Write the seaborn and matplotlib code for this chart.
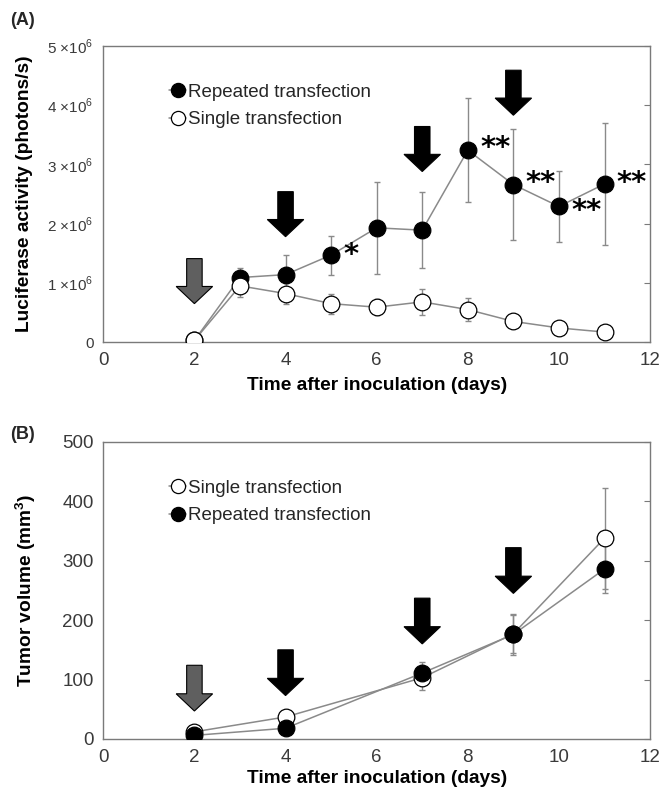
import numpy as np
import pandas as pd
import matplotlib
matplotlib.use("Agg")
import matplotlib.pyplot as plt
import seaborn as sns
from matplotlib.patches import FancyArrow

# ---- data (A) luciferase activity, x1e6 photons/s
days_a = [2, 3, 4, 5, 6, 7, 8, 9, 10, 11]
rep_a = [0.03, 1.09, 1.14, 1.47, 1.93, 1.89, 3.24, 2.66, 2.29, 2.67]
rep_a_err = [0.0, 0.16, 0.33, 0.33, 0.78, 0.64, 0.88, 0.94, 0.60, 1.03]
single_a = [0.03, 0.95, 0.82, 0.65, 0.59, 0.68, 0.55, 0.35, 0.24, 0.17]
single_a_err = [0.0, 0.18, 0.17, 0.17, 0.14, 0.22, 0.20, 0.05, 0.04, 0.03]
stars_a = {5: "*", 8: "**", 9: "**", 10: "**", 11: "**"}
star_y_a = {5: 1.47, 8: 3.28, 9: 2.69, 10: 2.22, 11: 2.69}

# ---- data (B) tumor volume, mm3
days_b = [2, 4, 7, 9, 11]
single_b = [12, 37, 103, 177, 338]
single_b_err = [3, 6, 20, 32, 85]
rep_b = [6, 18, 111, 176, 286]
rep_b_err = [2, 5, 18, 35, 40]

# transfection arrows: (day, top of arrow, colour)
arrows_a = [(2, 1.41, "#5f5f5f"), (4, 2.54, "black"), (7, 3.64, "black"), (9, 4.59, "black")]
arrows_b = [(2, 124, "#5f5f5f"), (4, 150, "black"), (7, 237, "black"), (9, 322, "black")]

sns.set_style("white")
plt.rcParams["font.family"] = ["Liberation Sans", "DejaVu Sans"]
plt.rcParams["mathtext.fontset"] = "custom"
plt.rcParams["mathtext.rm"] = "Liberation Sans"
plt.rcParams["mathtext.bf"] = "Liberation Sans:bold"

fig = plt.figure(figsize=(6.62, 7.92), dpi=100)
ax_a = fig.add_axes([0.156, 0.568, 0.826, 0.374])
ax_b = fig.add_axes([0.156, 0.067, 0.826, 0.375])

line_col = "#8a8a8a"
lab_size = 13.8


def draw_series(ax, x, y, err, filled, label):
    df = pd.DataFrame({"x": x, "y": y})
    ax.errorbar(x, y, yerr=err, fmt="none", ecolor=line_col, elinewidth=1,
                capsize=2, capthick=1, zorder=2)
    sns.lineplot(data=df, x="x", y="y", ax=ax, color=line_col, linewidth=1.1,
                 marker="o", markersize=12,
                 markerfacecolor="black" if filled else "white",
                 markeredgecolor="black", markeredgewidth=0.9,
                 label=label, zorder=3)


def draw_arrows(ax, arrows, length, head_len):
    for day, top, col in arrows:
        ax.add_patch(FancyArrow(day, top, 0, -length, width=0.34,
                                head_width=0.8, head_length=head_len,
                                length_includes_head=True, facecolor=col,
                                edgecolor="black", linewidth=0.8, zorder=4))


def style_axes(ax):
    ax.set_xlim(0, 12)
    ax.set_xticks(range(0, 13, 2))
    for side in ["left", "right", "top", "bottom"]:
        ax.spines[side].set_color("#7a7a7a")
        ax.spines[side].set_linewidth(1.0)
    ax.tick_params(direction="in", length=4, color="#7a7a7a", right=True,
                   labelsize=13.5, labelcolor="#3a3a3a", pad=7)
    ax.set_xlabel("Time after inoculation (days)", fontsize=lab_size,
                  fontweight="bold", labelpad=6, color="black")


def add_legend(ax):
    ax.legend(loc="upper left", bbox_to_anchor=(0.09, 0.93), frameon=False,
              fontsize=13.5, handlelength=0.9, handletextpad=0.1,
              labelspacing=0.55, markerscale=0.85)


# ---- panel A
draw_series(ax_a, days_a, rep_a, rep_a_err, True, "Repeated transfection")
draw_series(ax_a, days_a, single_a, single_a_err, False, "Single transfection")
draw_arrows(ax_a, arrows_a, 0.76, 0.29)
for d, s in stars_a.items():
    ax_a.text(d + 0.27, star_y_a[d], s, fontsize=21, fontweight="bold",
              color="black", ha="left", va="center", zorder=5,
              family="DejaVu Sans")
style_axes(ax_a)
ax_a.set_ylim(0, 5)
ax_a.set_yticks(range(0, 6))
ax_a.set_yticklabels(["0"] + [f"{i} ×10$^{{6}}$" for i in range(1, 6)], fontsize=11)
ax_a.set_ylabel("Luciferase activity (photons/s)", fontsize=lab_size,
                fontweight="bold", color="black")
ax_a.yaxis.set_label_coords(-0.128, 0.5)
add_legend(ax_a)

# ---- panel B
draw_series(ax_b, days_b, single_b, single_b_err, False, "Single transfection")
draw_series(ax_b, days_b, rep_b, rep_b_err, True, "Repeated transfection")
draw_arrows(ax_b, arrows_b, 77, 29)
style_axes(ax_b)
ax_b.xaxis.labelpad = 3
ax_b.set_ylim(0, 500)
ax_b.set_yticks(range(0, 501, 100))
ax_b.set_ylabel("Tumor volume (mm$^{\\mathbf{3}}$)", fontsize=lab_size,
                fontweight="bold", color="black")
ax_b.yaxis.set_label_coords(-0.12, 0.5)
add_legend(ax_b)

fig.text(0.015, 0.985, "(A)", fontsize=13, fontweight="bold", va="top")
fig.text(0.015, 0.462, "(B)", fontsize=13, fontweight="bold", va="top")

fig.savefig("out.png", dpi=100)
